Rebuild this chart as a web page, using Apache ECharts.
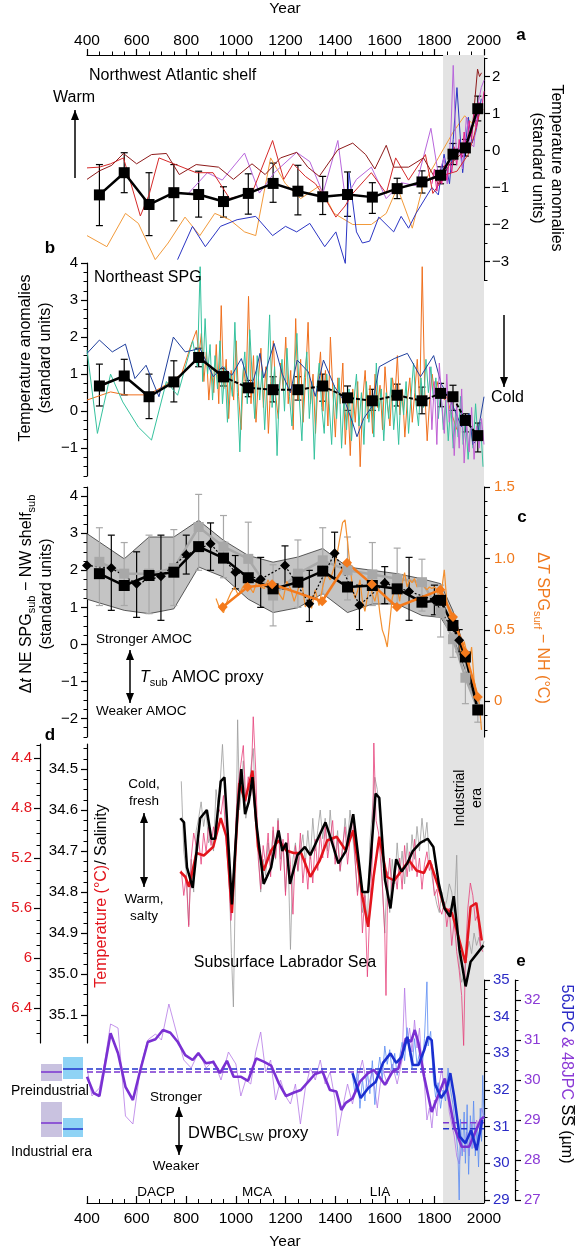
<!DOCTYPE html>
<html><head><meta charset="utf-8">
<script src="https://cdn.jsdelivr.net/npm/echarts@6/dist/echarts.min.js"></script>
<style>html,body{margin:0;padding:0;background:#fff}#c{width:582px;height:1252px}</style>
</head><body><div id="c"></div>
<script>
// ---------------- DATA ----------------
const xTickYears = [400,600,800,1000,1200,1400,1600,1800,2000];
const industrialStart = 1835;

// panel a : Northwest Atlantic shelf (standard units)
const aYears = [450,550,650,750,850,950,1050,1150,1250,1350,1450,1550,1650,1750,1825,1875,1925,1975];
const aMean = [-1.2,-0.6,-1.46,-1.14,-1.19,-1.38,-1.16,-0.89,-1.1,-1.25,-1.19,-1.26,-1.03,-0.85,-0.67,-0.1,0.07,1.13];
const aLo   = [-2.03,-1.14,-2.3,-1.9,-1.8,-1.8,-1.72,-1.4,-1.74,-1.73,-1.78,-1.7,-1.3,-1.15,-0.9,-0.38,-0.15,0.8];
const aHi   = [-0.38,-0.06,-0.6,-0.38,-0.56,-0.98,-0.63,-0.34,-0.4,-0.7,-0.58,-0.87,-0.75,-0.55,-0.44,0.19,0.3,1.47];
const aDarkRed = [[400,-0.78],[450,-0.55],[500,-0.4],[547,-0.08],[600,-0.36],[660,-0.11],[720,-0.08],[772,-0.65],[840,-0.38],[930,-0.45],[990,-0.78],[1065,-0.36],[1118,-0.65],[1180,-0.2],[1245,-0.05],[1290,-0.45],[1336,-0.7],[1411,0.02],[1471,0.2],[1523,-0.11],[1560,-0.5],[1606,0.14],[1636,-0.45],[1696,-0.45],[1756,-0.2],[1816,-0.9],[1861,-0.38],[1906,-0.11],[1952,0.51],[1974,2.2],[1982,2.0],[1990,2.1]];
const aRed = [[400,-0.47],[450,-0.45],[495,-0.36],[547,-0.2],[615,-1.77],[650,-1.2],[690,-0.2],[750,-0.36],[840,-0.6],[908,-0.6],[975,-1.3],[1065,-1.15],[1148,0.27],[1193,-0.78],[1231,-0.36],[1280,-0.7],[1321,-0.9],[1360,-1.3],[1403,-1.8],[1440,-1.5],[1471,-1.16],[1546,-0.6],[1606,-1.16],[1644,-0.2],[1696,-0.8],[1764,-0.11],[1794,-1.16],[1846,-0.65],[1891,-0.56],[1937,-0.1],[1960,0.4],[1982,1.0],[1997,1.1]];
const aViolet = [[810,-1.15],[885,-0.6],[945,-0.8],[1035,-0.07],[1095,-1.15],[1155,-0.6],[1245,-0.05],[1298,-0.3],[1351,-1.16],[1411,0.27],[1441,-1.3],[1486,-0.78],[1546,-0.45],[1606,-1.3],[1666,-0.87],[1726,-0.95],[1786,0.6],[1816,-0.65],[1839,-0.2],[1852,-0.9],[1866,0.4],[1876,2.3],[1888,0.0],[1899,0.1],[1914,-0.5],[1929,0.9],[1944,0.2],[1959,0.1],[1974,1.2],[1989,1.7],[2000,1.9]];
const aOrange = [[400,-2.3],[480,-2.6],[555,-1.7],[607,-1.97],[675,-2.95],[727,-2.5],[795,-1.8],[855,-2.3],[915,-1.7],[975,-1.87],[1035,-2.2],[1080,-2.3],[1140,-0.2],[1200,-0.9],[1261,-1.3],[1336,-0.96],[1396,-1.7],[1471,-2.0],[1546,-2.0],[1606,-1.7],[1651,-1.0],[1711,-2.1],[1756,-0.9],[1816,-0.2],[1876,0.5],[1922,0.94],[1967,0.63]];
const aBlue = [[765,-2.95],[825,-2.05],[877,-2.6],[938,-2.05],[1005,-1.87],[1080,-1.78],[1148,-2.3],[1200,-2.05],[1245,-2.2],[1298,-1.97],[1358,-2.6],[1403,-2.2],[1441,-3.05],[1456,-0.6],[1486,-2.2],[1510,-2.5],[1539,-2.45],[1576,-1.8],[1636,-2.2],[1666,-1.78],[1696,-2.1],[1726,-1.7],[1790,-1.0],[1816,-1.2],[1839,-0.1],[1861,-0.9],[1876,0.3],[1891,1.7],[1914,-0.6],[1937,0.9],[1952,0.2],[1967,0.5],[1989,1.4]];
const aMagenta = [[1790,-0.9],[1800,-0.5],[1810,-1.1],[1820,-0.6],[1830,-0.9],[1840,-0.4],[1850,-0.8],[1860,-0.2],[1870,-0.6],[1880,0.1],[1890,-0.4],[1900,0.3],[1910,-0.2],[1920,0.5],[1930,0.0],[1940,0.8],[1950,0.3],[1960,1.0],[1970,0.6],[1980,1.3],[1990,1.1],[2000,1.6]];

// panel b : Northeast SPG
const bYears = [450,550,650,750,850,950,1050,1150,1250,1350,1450,1550,1650,1750,1825,1875,1925,1975];
const bMean = [0.68,0.95,0.39,0.79,1.45,0.93,0.63,0.58,0.58,0.68,0.36,0.28,0.43,0.28,0.48,0.39,-0.25,-0.66];
const bLo   = [0.14,0.44,-0.2,0.25,1.2,0.68,0.39,0.25,0.3,0.27,0.02,0.02,0.14,-0.07,0.12,0.02,-0.56,-1.1];
const bHi   = [1.27,1.4,1.0,1.36,1.7,1.15,0.83,0.93,0.93,1.0,0.68,0.59,0.73,0.65,0.75,0.7,-0.07,-0.32];
const bNavy = [[400,1.56],[450,1.92],[502,1.6],[555,1.81],[593,0.88],[638,1.24],[690,0.39],[748,2.0],[796,1.6],[856,1.69],[909,0.93],[946,1.2],[984,0.97],[1022,1.42],[1060,0.6],[1082,1.1],[1097,1.56],[1112,0.9],[1154,1.83],[1187,1.0],[1220,0.5],[1247,1.38],[1292,1.06],[1320,0.4],[1353,1.38],[1398,0.66],[1443,0.2],[1470,-0.3],[1488,-0.69],[1515,-0.2],[1548,0.12],[1578,1.2],[1638,1.42],[1691,1.56],[1744,0.93],[1797,1.5],[1827,0.75],[1864,0.3],[1890,-0.1],[1909,-0.42],[1940,-0.06],[1955,-0.9],[1970,-0.78],[1985,-0.2],[2000,0.39]];
const bTeal = [[400,1.65],[442,-0.6],[495,1.0],[544,0.25],[607,-0.43],[660,-0.78],[720,0.8],[765,0.43],[826,1.9],[845,1.2],[856,3.9],[866,0.8],[876,2.5],[886,1.0],[896,1.8],[906,0.3],[916,1.5],[926,0.6],[936,1.9],[946,0.2],[956,1.2],[966,-0.3],[976,1.0],[986,0.4],[996,2.4],[1006,0.5],[1016,-1.1],[1026,0.8],[1036,1.6],[1046,0.2],[1056,2.2],[1066,0.9],[1076,-0.2],[1086,1.5],[1096,0.3],[1106,1.1],[1116,-0.5],[1126,0.9],[1136,2.6],[1146,0.1],[1156,1.2],[1166,-1.2],[1176,0.7],[1186,1.4],[1196,0.0],[1206,1.7],[1216,0.4],[1226,-0.4],[1236,1.2],[1246,2.1],[1256,0.3],[1266,-0.8],[1276,0.9],[1286,1.6],[1296,-0.2],[1306,0.8],[1316,-1.3],[1326,0.6],[1336,1.3],[1346,0.1],[1356,-0.6],[1366,1.0],[1376,0.2],[1386,-0.9],[1396,0.7],[1406,-0.2],[1416,0.9],[1426,-1.0],[1436,0.4],[1446,-0.5],[1456,0.6],[1466,-0.8],[1476,0.3],[1486,1.0],[1496,-0.4],[1506,0.5],[1516,-0.9],[1526,0.8],[1536,-0.3],[1546,0.4],[1556,-0.7],[1566,1.3],[1576,0.0],[1586,0.6],[1596,-0.8],[1606,0.5],[1616,-0.2],[1626,0.9],[1636,-0.5],[1646,0.3],[1656,-0.9],[1666,0.6],[1676,-0.1],[1686,0.8],[1696,-0.6],[1706,0.4],[1716,1.3],[1726,0.2],[1736,-0.4],[1746,0.9],[1756,0.1],[1766,1.4],[1776,0.5],[1786,1.2],[1796,0.3],[1806,0.9],[1816,-0.2],[1826,0.6],[1836,-0.5],[1846,0.3],[1856,-0.8],[1866,0.2],[1876,-1.0],[1886,0.0],[1896,-0.7],[1906,0.4],[1916,-0.9],[1926,-0.2],[1936,-1.3],[1946,-0.4],[1956,-1.0],[1966,0.2],[1976,-0.8],[1986,-0.3],[1996,-1.5]];
const bOrange = [[400,0.3],[495,0.52],[555,0.44],[645,0.44],[705,0.66],[781,1.0],[820,1.8],[841,2.18],[851,1.5],[861,2.1],[871,0.8],[881,1.6],[891,0.3],[901,1.2],[911,0.5],[921,1.8],[931,0.2],[941,2.85],[951,0.6],[961,1.4],[971,-0.2],[981,1.1],[991,0.3],[1001,1.9],[1011,0.4],[1021,-0.5],[1031,1.2],[1041,0.6],[1051,3.1],[1061,0.2],[1071,1.5],[1081,-0.3],[1091,0.9],[1101,1.7],[1111,0.1],[1121,1.2],[1131,-0.6],[1141,0.8],[1151,1.9],[1161,0.4],[1171,-0.2],[1181,1.3],[1191,0.6],[1201,2.0],[1211,0.2],[1221,1.1],[1231,-0.5],[1241,2.5],[1251,0.3],[1261,1.4],[1271,-0.3],[1281,0.9],[1291,2.4],[1301,0.2],[1311,1.0],[1321,-0.6],[1331,0.8],[1341,1.6],[1351,0.0],[1361,1.1],[1371,-0.4],[1381,2.0],[1391,0.5],[1401,-0.7],[1411,0.9],[1421,0.2],[1431,1.3],[1441,-0.9],[1451,0.4],[1461,-1.2],[1471,0.6],[1481,-0.3],[1491,0.8],[1501,-1.5],[1511,0.3],[1521,1.1],[1531,-0.2],[1541,0.7],[1551,-0.6],[1561,1.0],[1571,0.1],[1581,0.7],[1591,-0.5],[1601,1.2],[1611,0.2],[1621,-0.4],[1631,0.9],[1641,0.4],[1651,1.5],[1661,-0.1],[1671,0.6],[1681,-0.7],[1691,0.3],[1701,0.9],[1711,-0.3],[1721,0.5],[1731,1.4],[1741,0.2],[1751,3.9],[1761,0.6],[1771,-0.8],[1781,0.3],[1791,1.0],[1801,0.5],[1811,0.8],[1821,0.4],[1831,0.6],[1841,0.3],[1851,0.4],[1861,0.1],[1871,-0.1],[1881,-0.3],[1891,-0.5]];
const bViolet = [[1780,1.2],[1790,-0.5],[1800,0.8],[1810,-0.9],[1820,1.3],[1830,0.2],[1840,-0.6],[1850,1.0],[1860,-0.3],[1870,0.5],[1880,-1.2],[1890,0.2],[1900,-1.0],[1910,0.6],[1920,-1.4],[1930,-0.3],[1940,-1.1],[1950,0.1],[1960,-1.3],[1970,-0.4],[1980,-1.0],[1990,-0.2],[2000,-0.9]];

// panel c : Tsub AMOC proxy
const cYears = [450,550,650,750,850,950,1050,1150,1250,1350,1450,1550,1650,1750,1825,1875,1925,1975];
const cBlack = [1.91,1.59,1.86,1.95,2.64,2.33,1.8,1.5,1.68,1.98,1.55,1.59,1.5,1.14,1.19,0.51,-0.34,-1.77];
const cGray  = [2.23,1.91,1.91,2.06,3.17,2.64,2.31,1.32,1.91,2.27,2.0,1.89,1.77,1.68,0.86,0.14,-0.9,-1.75];
const cGrayLo = [1.05,1.05,0.83,1.05,2.0,1.8,1.5,0.5,1.0,1.35,1.2,1.05,1.0,0.9,0.2,-0.35,-1.6,-2.1];
const cGrayHi = [3.15,2.75,2.95,3.1,4.05,3.48,3.3,2.15,2.82,3.15,2.9,2.75,2.6,2.3,1.6,0.7,-0.3,-1.5];
const cBandYears = [400,550,650,750,850,950,1050,1150,1250,1350,1450,1550,1650,1750,1825,1875,1925,1975];
const cBandHi = [2.99,2.31,2.9,2.9,3.35,2.81,2.4,2.22,2.36,2.59,2.09,2.0,1.91,1.77,1.64,0.9,-0.2,-1.55];
const cBandLo = [1.22,0.92,0.83,0.96,2.09,1.82,1.22,0.86,0.99,1.37,0.86,1.09,1.09,0.78,0.73,0.2,-0.7,-1.85];
const cDiaYears = [400,498,600,698,800,898,998,1100,1198,1296,1398,1498,1600,1698,1800,1900];
const cDia   = [2.13,2.06,1.64,1.84,2.42,2.72,1.95,1.76,2.13,1.1,2.46,1.06,1.66,1.43,1.2,0.11];
const cDiaLo = [null,0.92,0.73,0.65,1.9,2.0,1.5,1.0,1.5,0.62,1.8,0.4,1.1,0.65,0.8,-0.2];
const cDiaHi = [null,2.95,2.5,2.95,2.95,3.28,2.4,2.35,2.66,2.0,3.03,1.6,2.1,2.35,1.6,0.4];
const cOrYears = [947,1047,1146,1348,1448,1548,1649,1824,1875,1925,1975];
const cOr = [0.66,0.80,0.82,0.70,0.97,0.82,0.66,0.78,0.59,0.34,0.03];
const cOrThin = [[920,0.72],[935,0.65],[950,0.62],[965,0.70],[980,0.76],[995,0.80],[1010,0.74],[1025,0.79],[1040,0.83],[1055,0.80],[1070,0.76],[1085,0.84],[1100,0.80],[1115,0.79],[1130,0.85],[1145,0.78],[1160,0.82],[1175,0.75],[1190,0.71],[1205,0.84],[1220,0.79],[1235,0.70],[1250,0.78],[1265,0.84],[1280,0.66],[1295,0.72],[1305,0.65],[1320,0.78],[1335,0.67],[1350,0.80],[1365,0.90],[1380,0.85],[1395,0.93],[1410,1.05],[1420,1.15],[1430,1.25],[1440,1.27],[1450,1.12],[1460,0.95],[1470,0.80],[1480,0.72],[1490,0.77],[1500,0.85],[1510,0.70],[1520,0.63],[1530,0.73],[1540,0.82],[1550,0.75],[1560,0.70],[1570,0.78],[1580,0.62],[1590,0.50],[1600,0.45],[1610,0.38],[1620,0.55],[1630,0.72],[1640,0.78],[1650,0.80],[1660,0.70],[1670,0.82],[1680,0.90],[1690,0.80],[1700,0.85],[1710,0.83],[1720,0.86],[1730,0.80],[1740,0.84],[1750,0.82],[1760,0.80],[1770,0.78],[1780,0.80],[1790,0.79],[1800,0.80],[1810,0.78],[1820,0.72],[1830,0.79],[1840,0.92],[1850,0.70],[1860,0.62],[1870,0.55],[1880,0.60],[1890,0.45],[1900,0.42],[1910,0.30],[1920,0.42],[1930,0.35],[1940,0.25],[1950,0.38],[1960,0.15],[1970,0.05],[1980,0.0],[1990,-0.2]];

// panel d : Subsurface Labrador Sea
const dSalThick = [[776,34.62],[791,34.63],[803,34.74],[826,34.79],[856,34.62],[883,34.60],[901,34.67],[916,34.67],[939,34.53],[954,34.52],[984,34.83],[1007,34.60],[1022,34.50],[1037,34.61],[1052,34.58],[1067,34.52],[1082,34.63],[1112,34.78],[1142,34.74],[1157,34.69],[1172,34.65],[1187,34.70],[1203,34.68],[1218,34.78],[1248,34.71],[1278,34.69],[1300,34.71],[1323,34.68],[1361,34.63],[1383,34.67],[1413,34.73],[1443,34.70],[1473,34.61],[1510,34.80],[1533,34.80],[1563,34.56],[1578,34.57],[1601,34.77],[1623,34.84],[1646,34.72],[1668,34.75],[1691,34.73],[1713,34.70],[1743,34.68],[1773,34.67],[1796,34.69],[1818,34.78],[1841,34.84],[1863,34.86],[1878,34.81],[1901,34.94],[1926,35.03],[1946,34.97],[1998,34.93]];
const dTempThick = [[776,5.31],[796,5.35],[811,5.43],[841,5.16],[871,5.18],[909,5.11],[939,4.88],[962,5.03],[984,5.64],[1014,4.60],[1037,4.74],[1067,4.50],[1089,5.11],[1112,5.30],[1142,5.14],[1172,5.06],[1203,5.14],[1233,5.16],[1263,5.16],[1300,5.35],[1338,5.22],[1368,5.06],[1406,5.03],[1443,5.14],[1473,4.98],[1510,5.51],[1533,5.75],[1555,5.35],[1578,5.03],[1608,5.35],[1638,5.38],[1668,5.30],[1698,5.22],[1728,5.30],[1758,5.32],[1781,5.22],[1811,5.40],[1841,5.60],[1871,5.64],[1901,5.86],[1925,6.04],[1946,5.59],[1969,5.56],[1991,5.86]];
const dTempThin = [[780,5.3],[790,5.5],[800,5.35],[810,5.75],[820,5.2],[830,5.0],[840,5.1],[850,5.05],[860,5.25],[870,5.0],[880,5.15],[890,4.95],[900,5.1],[910,4.95],[920,5.05],[930,4.8],[940,4.85],[950,4.7],[960,5.05],[970,5.3],[980,5.7],[990,5.5],[1000,4.9],[1010,4.6],[1020,4.45],[1030,4.3],[1040,4.75],[1050,4.55],[1060,4.7],[1070,4.07],[1080,4.5],[1090,5.2],[1100,5.45],[1110,5.1],[1120,5.25],[1130,5.0],[1140,5.35],[1150,4.95],[1160,5.2],[1170,4.9],[1180,5.3],[1190,5.05],[1200,5.5],[1210,5.0],[1220,5.25],[1230,5.65],[1240,5.1],[1250,5.3],[1260,5.0],[1270,5.4],[1280,5.2],[1290,5.45],[1300,5.15],[1310,5.4],[1320,5.05],[1330,5.3],[1340,5.0],[1350,5.2],[1360,4.95],[1370,5.2],[1380,5.05],[1390,4.9],[1400,5.25],[1410,5.05],[1420,5.3],[1430,5.1],[1440,4.95],[1450,5.25],[1460,5.05],[1470,4.85],[1480,5.2],[1490,5.5],[1500,5.3],[1510,5.8],[1520,5.5],[1530,6.15],[1540,5.6],[1550,5.2],[1556,4.28],[1565,4.9],[1575,5.0],[1590,5.4],[1600,5.8],[1605,6.3],[1612,5.4],[1620,5.2],[1630,5.5],[1640,5.3],[1650,5.45],[1660,5.2],[1670,5.45],[1680,5.1],[1690,5.35],[1700,5.15],[1710,5.3],[1720,5.05],[1730,5.35],[1740,5.2],[1750,5.45],[1760,5.25],[1770,5.15],[1780,5.3],[1790,5.25],[1800,5.5],[1810,5.45],[1820,5.6],[1830,5.65],[1840,5.55],[1850,5.75],[1860,5.6],[1870,5.9],[1880,5.7],[1890,5.95],[1900,6.1],[1910,6.3],[1918,6.7],[1925,6.0],[1935,5.6],[1945,5.4],[1955,5.5],[1965,5.7],[1975,5.65],[1985,5.9],[1995,5.95]];
const dSalThin = [[780,34.53],[790,34.7],[800,34.75],[810,34.88],[820,34.72],[830,34.8],[840,34.65],[850,34.62],[860,34.58],[870,34.64],[880,34.6],[890,34.68],[900,34.66],[910,34.7],[920,34.55],[930,34.6],[946,34.44],[955,34.55],[965,34.62],[975,34.8],[982,34.95],[990,35.08],[1000,34.7],[1007,34.38],[1015,34.6],[1022,34.55],[1030,34.48],[1040,34.62],[1050,34.58],[1060,34.5],[1070,34.45],[1080,34.6],[1090,34.7],[1100,34.8],[1110,34.72],[1120,34.76],[1130,34.68],[1140,34.74],[1150,34.65],[1160,34.72],[1170,34.62],[1180,34.72],[1190,34.68],[1200,34.8],[1210,34.7],[1220,34.94],[1230,34.72],[1240,34.68],[1250,34.75],[1260,34.7],[1270,34.66],[1280,34.73],[1290,34.65],[1300,34.72],[1310,34.62],[1320,34.7],[1330,34.65],[1340,34.6],[1350,34.67],[1360,34.62],[1370,34.7],[1380,34.6],[1390,34.68],[1400,34.72],[1410,34.65],[1420,34.75],[1430,34.7],[1440,34.62],[1450,34.68],[1460,34.6],[1470,34.66],[1480,34.72],[1490,34.8],[1500,34.75],[1510,34.85],[1520,34.8],[1530,34.88],[1540,34.68],[1550,34.6],[1560,34.52],[1570,34.55],[1580,34.62],[1590,34.78],[1600,34.9],[1610,34.75],[1620,34.85],[1630,34.72],[1640,34.78],[1650,34.68],[1660,34.76],[1670,34.7],[1680,34.78],[1690,34.68],[1700,34.75],[1710,34.66],[1720,34.72],[1730,34.64],[1740,34.7],[1750,34.62],[1760,34.68],[1770,34.63],[1780,34.72],[1790,34.76],[1800,34.8],[1810,34.83],[1820,34.85],[1830,34.8],[1840,34.84],[1850,34.82],[1860,34.78],[1870,34.8],[1880,34.85],[1890,34.71],[1900,34.98],[1910,35.02],[1920,35.0],[1930,34.96],[1940,34.92],[1950,34.95],[1960,34.9],[1970,34.93],[1980,34.91],[1990,34.94],[2000,34.92]];

// panel e : DWBC_LSW proxy (sortable silt, µm)
const ePurpleThick = [[400,30.08],[427,29.67],[450,29.6],[495,31.17],[525,30.67],[555,29.83],[585,29.5],[615,30.25],[645,30.95],[676,31.02],[706,31.25],[736,31.18],[766,30.95],[796,30.62],[826,30.5],[849,30.67],[879,30.42],[909,30.45],[936,30.17],[964,30.48],[991,30.08],[1021,30.08],[1049,29.98],[1082,30.54],[1112,30.46],[1142,30.36],[1172,29.93],[1202,29.6],[1232,29.68],[1262,29.75],[1292,29.96],[1319,30.15],[1349,30.21],[1379,29.75],[1405,29.71],[1425,29.25],[1443,29.43],[1470,29.54],[1500,29.96],[1533,30.17],[1556,30.25],[1578,30.08],[1601,29.88],[1631,30.21],[1655,30.29],[1685,31.04],[1706,30.96],[1721,31.25],[1736,30.92],[1759,30.08],[1789,29.2],[1819,29.67],[1842,30.04],[1857,29.58],[1880,28.83],[1910,28.33],[1940,28.33],[1963,28.67],[1986,29.0],[2000,29.08]];
const ePurpleThin = [[400,30.3],[420,29.6],[450,29.8],[470,30.4],[495,31.4],[525,31.3],[555,29.1],[585,28.9],[615,30.3],[645,31.0],[676,31.15],[700,31.0],[730,31.9],[760,31.2],[790,30.5],[820,30.3],[850,30.7],[880,30.3],[910,30.5],[940,30.0],[970,30.7],[1000,30.4],[1020,29.6],[1040,30.0],[1060,29.9],[1080,30.7],[1100,31.2],[1120,30.2],[1140,30.5],[1160,29.5],[1180,30.0],[1200,29.6],[1220,29.4],[1240,29.9],[1260,28.9],[1280,29.8],[1300,30.3],[1320,30.0],[1340,30.5],[1360,29.9],[1380,30.2],[1400,29.5],[1410,28.6],[1430,29.3],[1450,29.9],[1470,29.4],[1490,30.0],[1510,30.5],[1530,29.8],[1550,30.2],[1570,29.3],[1590,30.3],[1610,29.9],[1630,30.4],[1650,29.9],[1670,30.5],[1680,32.3],[1690,30.9],[1700,31.3],[1710,30.7],[1720,31.5],[1730,30.8],[1740,31.3],[1750,30.3],[1760,29.9],[1770,29.0],[1780,29.3],[1790,28.8],[1800,29.5],[1810,29.1],[1820,29.9],[1830,30.3],[1840,29.6],[1850,29.8],[1860,29.2],[1870,28.9],[1880,28.6],[1890,28.1],[1900,27.9],[1910,28.4],[1920,28.2],[1930,28.7],[1940,28.1],[1950,28.9],[1960,28.3],[1970,29.0],[1980,28.8],[1990,29.3],[2000,29.1]];
const eBlueThick = [[1470,32.46],[1503,31.78],[1533,32.05],[1563,32.22],[1593,32.74],[1623,33.0],[1646,32.74],[1668,32.9],[1691,33.45],[1713,32.68],[1736,32.68],[1759,33.09],[1774,33.45],[1789,33.36],[1804,32.14],[1827,31.78],[1849,32.0],[1864,32.46],[1880,31.82],[1902,30.73],[1925,30.55],[1948,30.9],[1970,30.36],[1993,31.18]];
const eBlueThin = [[1470,32.4],[1480,31.9],[1490,32.6],[1500,31.5],[1510,32.3],[1520,31.7],[1530,32.5],[1540,31.9],[1550,32.8],[1560,31.6],[1570,32.4],[1580,32.9],[1590,32.3],[1600,33.2],[1610,32.7],[1620,33.1],[1630,32.5],[1640,33.0],[1650,32.4],[1660,32.9],[1670,33.3],[1680,32.8],[1690,33.7],[1700,33.0],[1710,32.6],[1720,33.4],[1730,32.7],[1740,33.0],[1750,32.5],[1760,33.4],[1770,34.95],[1775,33.2],[1785,33.6],[1795,32.4],[1805,31.8],[1815,32.2],[1825,31.5],[1835,32.0],[1845,31.7],[1855,32.6],[1865,32.0],[1875,31.6],[1885,31.0],[1895,30.3],[1900,29.0],[1905,31.2],[1912,30.2],[1920,31.4],[1925,30.0],[1932,31.6],[1938,29.7],[1945,31.3],[1952,30.4],[1958,31.7],[1965,30.2],[1972,31.0],[1978,29.9],[1985,31.5],[1990,30.6],[1995,32.4],[2000,31.2]];
const ePreBlue = 32.57, ePrePurple = 30.2, eIndBlue = 30.94, eIndPurple = 28.93;

// ---------------- CHART ----------------
const FONT = '"Liberation Sans", Arial, Helvetica, sans-serif';
const chart = echarts.init(document.getElementById('c'), null, {renderer:'canvas'});
const L = 87, R = 98;
const minus = v => String(v).replace('-', '\u2212');
function range(a, b, s){const o=[];for(let v=a;v<=b+1e-9;v+=s)o.push(+v.toFixed(4));return o;}

const grids = [
  {left:L, right:R, top:55, height:1148},
  {left:L, right:R, top:58, height:222},
  {left:L, right:R, top:263, height:213},
  {left:L, right:R, top:487, height:250},
  {left:L, right:R, top:744, height:299},
  {left:L, right:R, top:980, height:220}
].map(g => Object.assign(g, {outerBoundsMode:'none', containLabel:false}));

const axLine = {show:true, onZero:false, lineStyle:{color:'#000', width:1.2}};
const yearFmt = v => String(v);
const xAxes = [
  {type:'value', gridIndex:0, position:'top', min:400, max:2000, interval:200,
   axisLine:axLine, axisTick:{show:true, length:6, lineStyle:{color:'#000', width:1.2}},
   minorTick:{show:true, splitNumber:4, length:3.5, lineStyle:{color:'#000', width:1}},
   axisLabel:{margin:6, fontSize:15.5, color:'#000', fontFamily:FONT, formatter:yearFmt}, splitLine:{show:false}},
  {type:'value', gridIndex:0, position:'bottom', min:400, max:2000, interval:200,
   axisLine:axLine, axisTick:{show:true, inside:true, length:7, lineStyle:{color:'#000', width:1.2}},
   minorTick:{show:true, splitNumber:4, length:4, lineStyle:{color:'#000', width:1}},
   axisLabel:{margin:8, fontSize:15.5, color:'#000', fontFamily:FONT, formatter:yearFmt}, splitLine:{show:false}}
];
for (let g=1; g<=5; g++) xAxes.push({type:'value', gridIndex:g, min:400, max:2000, show:false, splitLine:{show:false}});
const XI = {a:2, b:3, c:4, d:5, e:6};

const yAxes = [{type:'value', gridIndex:0, min:0, max:1, show:false}];
function addY(grid, o){
  const base = {type:'value', gridIndex:grid, position:o.pos, offset:o.offset||0, min:o.min, max:o.max,
    inverse:!!o.inverse, splitLine:{show:false}};
  const idx = yAxes.length;
  yAxes.push(Object.assign({}, base, {axisLine:axLine,
    axisTick:{show:true, customValues:o.majors, length:6, lineStyle:{color:'#000', width:1.2}},
    axisLabel:{show:true, customValues:o.majors, margin:o.margin, color:o.color||'#000', fontSize:15, fontFamily:FONT, formatter:o.fmt||minus}}));
  yAxes.push(Object.assign({}, base, {axisLine:{show:false, onZero:false},
    axisTick:{show:true, customValues:o.minors, length:3.5, lineStyle:{color:'#000', width:1}},
    axisLabel:{show:false}}));
  return idx;
}
const YA = addY(1, {pos:'right', min:-3.5, max:2.5, majors:range(-3,2,1), minors:range(-3.5,2.5,0.5), margin:8});
const YB = addY(2, {pos:'left', min:-1.75, max:4, majors:range(-1,4,1), minors:range(-1.75,4,0.25), margin:9});
const YC = addY(3, {pos:'left', min:-2.5, max:4.25, majors:range(-2,4,1), minors:range(-2.5,4.25,0.25), margin:9});
const YCR = addY(3, {pos:'right', min:-0.25, max:1.5, majors:[0,0.5,1,1.5], minors:range(-0.2,1.5,0.1), margin:10, color:'#f07a1e', fmt:v=> v===0?'0':v.toFixed(1)});
const YDS = addY(4, {pos:'left', inverse:true, min:34.439, max:35.168, majors:range(34.5,35.1,0.1), minors:range(34.45,35.15,0.025), margin:9, fmt:v=>v.toFixed(1)});
const YDT = addY(4, {pos:'left', offset:47, inverse:true, min:4.288, max:6.68, majors:[4.4,4.8,5.2,5.6,6,6.4], minors:range(4.3,6.6,0.1), margin:8, color:'#e3141c', fmt:v=> v===6?'6':v.toFixed(1)});
const YEB = addY(5, {pos:'right', min:29, max:35, majors:range(29,35,1), minors:range(29,35,0.25), margin:9, color:'#2b2bc6'});
const YEP = addY(5, {pos:'right', offset:31, min:27, max:32.5, majors:range(27,32,1), minors:range(27,32.5,0.25), margin:9, color:'#8b3ad6'});

function lineS(xi, yi, data, color, width, extra){
  return Object.assign({type:'line', xAxisIndex:xi, yAxisIndex:yi, data, symbol:'none', showSymbol:false,
    lineStyle:{color, width}, itemStyle:{color}, clip:false, silent:true, animation:false}, extra||{});
}
function markS(xi, yi, years, vals, color, symbol, size, width, lineType){
  return {type:'line', xAxisIndex:xi, yAxisIndex:yi, data:years.map((y,i)=>[y,vals[i]]),
    symbol, symbolSize:size, showSymbol:true, lineStyle:{color, width, type:lineType||'solid'},
    itemStyle:{color, borderWidth:0}, clip:false, silent:true, animation:false};
}
function errS(xi, yi, years, lo, hi, color, cap, w){
  const data = years.map((y,i)=>[y,lo[i],hi[i]]).filter(d=>d[1]!=null);
  return {type:'custom', xAxisIndex:xi, yAxisIndex:yi, data, silent:true, clip:false, animation:false,
    encode:{x:0, y:[1,2]},
    renderItem:(p, api)=>{
      const x=api.value(0), p1=api.coord([x,api.value(1)]), p2=api.coord([x,api.value(2)]);
      const st={stroke:color, lineWidth:w||1.2};
      return {type:'group', children:[
        {type:'line', shape:{x1:p1[0],y1:p1[1],x2:p2[0],y2:p2[1]}, style:st},
        {type:'line', shape:{x1:p1[0]-cap,y1:p1[1],x2:p1[0]+cap,y2:p1[1]}, style:st},
        {type:'line', shape:{x1:p2[0]-cap,y1:p2[1],x2:p2[0]+cap,y2:p2[1]}, style:st}]};
    }};
}

const series = [];
// industrial era band
series.push({type:'line', xAxisIndex:0, yAxisIndex:0, data:[[400,0.5]], symbol:'none', lineStyle:{opacity:0}, silent:true,
  markArea:{silent:true, itemStyle:{color:'#e3e3e3'}, data:[[{xAxis:industrialStart},{xAxis:2000}]]}});

// panel a
series.push(lineS(XI.a, YA, aOrange, '#f29a3a', 1));
series.push(lineS(XI.a, YA, aBlue, '#2b35c4', 1));
series.push(lineS(XI.a, YA, aViolet, '#b866dc', 1));
series.push(lineS(XI.a, YA, aRed, '#d62a2a', 1));
series.push(lineS(XI.a, YA, aDarkRed, '#8e1a1a', 1));
series.push(lineS(XI.a, YA, aMagenta, '#e0208c', 1));
series.push(errS(XI.a, YA, aYears, aLo, aHi, '#000', 3.5));
series.push(markS(XI.a, YA, aYears, aMean, '#000', 'rect', 11, 2.5));

// panel b
series.push(lineS(XI.b, YB, bOrange, '#f0701e', 1));
series.push(lineS(XI.b, YB, bTeal, '#36c29e', 1));
series.push(lineS(XI.b, YB, bNavy, '#20409e', 1));
series.push(lineS(XI.b, YB, bViolet, '#c060d4', 1));
series.push(errS(XI.b, YB, bYears, bLo, bHi, '#000', 3.5));
series.push(markS(XI.b, YB, bYears.slice(0,6), bMean.slice(0,6), '#000', 'rect', 11, 2.5));
series.push(markS(XI.b, YB, bYears.slice(5), bMean.slice(5), '#000', 'rect', 11, 2, [4,2]));

// panel c
series.push({type:'custom', xAxisIndex:XI.c, yAxisIndex:YC, data:cBandYears.map((y,i)=>[y,cBandLo[i],cBandHi[i]]),
  silent:true, clip:false, animation:false, encode:{x:0, y:[1,2]},
  renderItem:(p, api)=>{
    if (p.dataIndex!==0) return null;
    const up = cBandYears.map((y,i)=>api.coord([y,cBandHi[i]]));
    const dn = cBandYears.map((y,i)=>api.coord([y,cBandLo[i]])).reverse();
    return {type:'polygon', shape:{points:up.concat(dn)}, style:{fill:'#c4c4c4', stroke:'#333', lineWidth:0.8}};
  }});
series.push(errS(XI.c, YC, cYears, cGrayLo, cGrayHi, '#a8a8a8', 3.5));
series.push(markS(XI.c, YC, cYears, cGray, '#a8a8a8', 'rect', 10, 2.5));
series.push(lineS(XI.c, YCR, cOrThin, '#f39030', 1.2));
series.push(errS(XI.c, YC, cDiaYears, cDiaLo, cDiaHi, '#000', 3.5));
series.push(markS(XI.c, YC, cDiaYears, cDia, '#000', 'diamond', 10, 1.2, [2,2]));
series.push(markS(XI.c, YC, cYears, cBlack, '#000', 'rect', 11, 2.5));
series.push(markS(XI.c, YCR, cOrYears, cOr, '#f47a1c', 'diamond', 10, 2.5));

// panel d
series.push(lineS(XI.d, YDS, dSalThin, '#9c9c9c', 0.8));
series.push(lineS(XI.d, YDT, dTempThin, '#e6407a', 0.8));
series.push(lineS(XI.d, YDT, dTempThick, '#e3141c', 2.5));
series.push(lineS(XI.d, YDS, dSalThick, '#000', 2.5));

// panel e
series.push(lineS(XI.e, YEP, ePurpleThin, '#b57ae6', 0.8));
series.push(lineS(XI.e, YEB, eBlueThin, '#5a8cf2', 0.8));
series.push(lineS(XI.e, YEB, [[400,ePreBlue],[industrialStart,ePreBlue]], '#2233cc', 1.5, {lineStyle:{color:'#2233cc', width:1.5, type:[6,3]}}));
series.push(lineS(XI.e, YEP, [[400,ePrePurple],[industrialStart,ePrePurple]], '#7a35d0', 1.5, {lineStyle:{color:'#7a35d0', width:1.5, type:[6,3]}}));
series.push(lineS(XI.e, YEB, [[industrialStart,eIndBlue],[2000,eIndBlue]], '#2233cc', 1.5, {lineStyle:{color:'#2233cc', width:1.5, type:[6,3]}}));
series.push(lineS(XI.e, YEP, [[industrialStart,eIndPurple],[2000,eIndPurple]], '#7a35d0', 1.5, {lineStyle:{color:'#7a35d0', width:1.5, type:[6,3]}}));
series.push(lineS(XI.e, YEP, ePurpleThick, '#7a30d2', 2.6));
series.push(lineS(XI.e, YEB, eBlueThick, '#1a2fd0', 2.6));

// ---------------- GRAPHICS (text, arrows, key) ----------------
function T(x, y, text, o){
  o = o||{};
  const size = o.size||16;
  return {type:'text', x, y, rotation:o.rot||0, z:100, silent:true,
    style:{text, fill:o.color||'#000', font:(o.weight||'normal')+' '+size+'px '+FONT,
      align:o.align||'left', verticalAlign:'middle', textAlign:o.align||'left', textVerticalAlign:'middle',
      lineHeight:o.lh||Math.round(size*1.2), rich:o.rich}};
}
function rs(size, color, extra){ return Object.assign({fontSize:size, fontFamily:FONT, fill:color||'#000', color:color||'#000'}, extra||{}); }
function arrow(x, yTail, yHead, both){
  const els = [{type:'line', z:100, silent:true, shape:{x1:x, y1:yTail, x2:x, y2:yHead}, style:{stroke:'#000', lineWidth:1.5}}];
  const head = (yy, dir)=>({type:'polygon', z:100, silent:true, shape:{points:[[x-4, yy-dir*10],[x+4, yy-dir*10],[x, yy]]}, style:{fill:'#000'}});
  const dir = yHead > yTail ? 1 : -1;
  els.push(head(yHead, dir));
  if (both) els.push(head(yTail, -dir));
  return els;
}
const PI2 = Math.PI/2;
const graphics = [
  T(285, 9, 'Year', {align:'center', size:15.5}),
  T(285, 1242, 'Year', {align:'center', size:15.5}),
  T(521, 35, 'a', {weight:'bold', size:17, align:'center'}),
  T(50, 248, 'b', {weight:'bold', size:17, align:'center'}),
  T(522, 517, 'c', {weight:'bold', size:17, align:'center'}),
  T(50, 735, 'd', {weight:'bold', size:17, align:'center'}),
  T(521, 961, 'e', {weight:'bold', size:17, align:'center'}),
  // panel a
  T(89, 76, 'Northwest Atlantic shelf'),
  T(74, 98, 'Warm', {align:'center'}),
  ...arrow(75, 178, 110),
  T(547, 168, 'Temperature anomalies\n(standard units)', {rot:-PI2, align:'center', lh:19}),
  // panel b
  T(94, 278, 'Northeast SPG'),
  T(491, 398, 'Cold'),
  ...arrow(504, 315, 387),
  T(36, 358, 'Temperature anomalies\n(standard units)', {rot:PI2, align:'center', lh:20}),
  // panel c
  T(37, 594, '{n|\u0394}{i|t}{n| NE SPG}{s|sub}{n| \u2212 NW shelf}{s|sub}\n{n|(standard units)}', {rot:PI2, align:'center', lh:20,
     rich:{n:rs(16,'#000',{lineHeight:20}), i:rs(16,'#000',{fontStyle:'italic', lineHeight:20}), s:rs(11,'#000',{padding:[9,0,0,0], lineHeight:20})}}),
  T(542, 628, '{n|\u0394}{i|T}{n| SPG}{s|surf}{n| \u2212 NH (\u00B0C)}', {rot:-PI2, align:'center',
     rich:{n:rs(16,'#f07a1e'), i:rs(16,'#f07a1e',{fontStyle:'italic'}), s:rs(11,'#f07a1e',{padding:[9,0,0,0]})}}),
  T(96, 639, 'Stronger AMOC', {size:13.5}),
  T(96, 711, 'Weaker AMOC', {size:13.5}),
  ...arrow(130, 650, 703, true),
  T(140, 678, '{i|T}{s|sub}{n| AMOC proxy}', {rich:{n:rs(16), i:rs(16,'#000',{fontStyle:'italic'}), s:rs(11,'#000',{padding:[9,0,0,0]})}}),
  // panel d
  T(102, 896, '{r|Temperature (\u00B0C)}{k|/ Salinity}', {rot:PI2, align:'center', rich:{r:rs(16,'#e3141c'), k:rs(16,'#000')}}),
  T(144, 793, 'Cold,\nfresh', {align:'center', size:13.5, lh:17}),
  ...arrow(144, 813, 887, true),
  T(144, 908, 'Warm,\nsalty', {align:'center', size:13.5, lh:17}),
  T(285, 963, 'Subsurface Labrador Sea', {align:'center'}),
  T(469, 798, 'Industrial\nera', {rot:PI2, align:'center', size:14, lh:17}),
  // panel e
  T(566, 1074, '{b|56JPC}{p| & 48JPC}{k| S\u0305S\u0305 (\u00B5m)}', {rot:-PI2, align:'center', rich:{b:rs(16,'#2b2bc6'), p:rs(16,'#8b3ad6'), k:rs(16,'#000')}}),
  T(11, 1091, 'Preindustrial', {size:14}),
  T(11, 1152, 'Industrial era', {size:14}),
  T(176, 1097, 'Stronger', {align:'center', size:13.5}),
  T(176, 1166, 'Weaker', {align:'center', size:13.5}),
  ...arrow(179, 1107, 1155, true),
  T(188, 1133, '{n|DWBC}{s|LSW}{n| proxy}', {rich:{n:rs(16.5), s:rs(11.5,'#000',{padding:[9,0,0,0]})}}),
  T(156, 1192, 'DACP', {align:'center', size:13.5}),
  T(257, 1192, 'MCA', {align:'center', size:13.5}),
  T(380, 1192, 'LIA', {align:'center', size:13.5}),
  // key boxes
  {type:'rect', z:90, silent:true, shape:{x:41, y:1064, width:21, height:17}, style:{fill:'#c9c2e0'}},
  {type:'rect', z:90, silent:true, shape:{x:63, y:1057, width:20, height:22}, style:{fill:'#8fd3f5'}},
  {type:'line', z:91, silent:true, shape:{x1:41, y1:1072, x2:62, y2:1072}, style:{stroke:'#7a35d0', lineWidth:1.5}},
  {type:'line', z:91, silent:true, shape:{x1:63, y1:1069, x2:83, y2:1069}, style:{stroke:'#2233cc', lineWidth:1.5}},
  {type:'rect', z:90, silent:true, shape:{x:41, y:1102, width:21, height:35}, style:{fill:'#c9c2e0'}},
  {type:'rect', z:90, silent:true, shape:{x:63, y:1118, width:20, height:19}, style:{fill:'#8fd3f5'}},
  {type:'line', z:91, silent:true, shape:{x1:41, y1:1123, x2:62, y2:1123}, style:{stroke:'#7a35d0', lineWidth:1.5}},
  {type:'line', z:91, silent:true, shape:{x1:63, y1:1129, x2:83, y2:1129}, style:{stroke:'#2233cc', lineWidth:1.5}}
];

chart.setOption({
  animation:false,
  backgroundColor:'#fff',
  textStyle:{fontFamily:FONT},
  grid:grids, xAxis:xAxes, yAxis:yAxes, series, graphic:{elements:graphics}
});
</script></body></html>
